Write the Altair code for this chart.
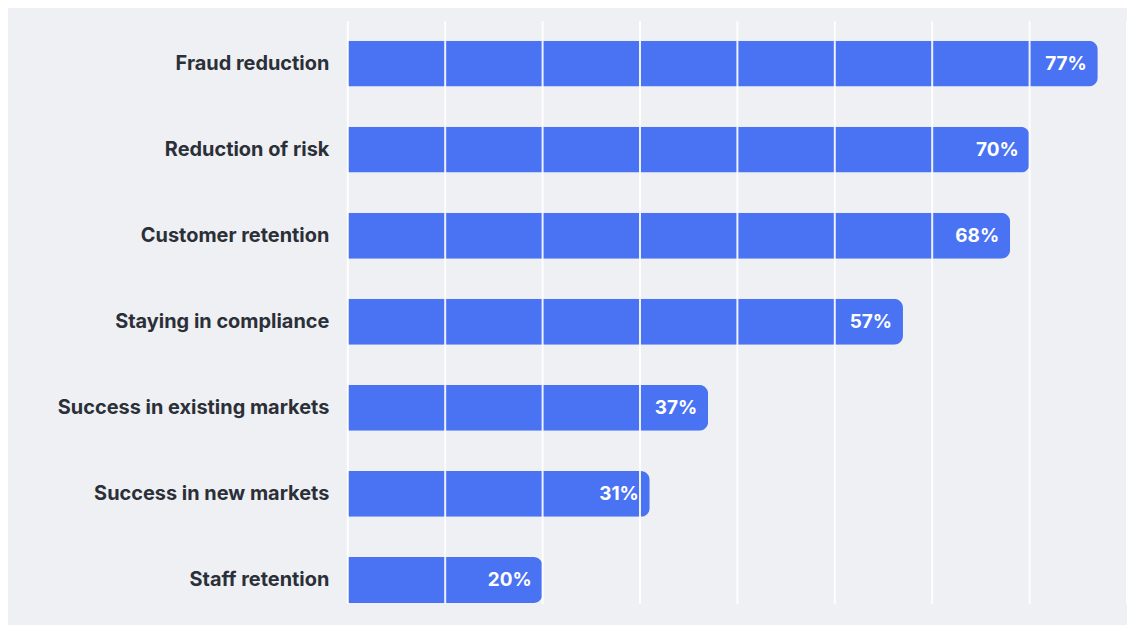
import altair as alt
import pandas as pd

categories = [
    "Fraud reduction",
    "Reduction of risk",
    "Customer retention",
    "Staying in compliance",
    "Success in existing markets",
    "Success in new markets",
    "Staff retention",
]
values = [77, 70, 68, 57, 37, 31, 20]
grid_ticks = [0, 10, 20, 30, 40, 50, 60, 70, 80]

df = pd.DataFrame({"category": categories, "value": values})
grid_df = pd.DataFrame({"tick": grid_ticks})

FONT = "Inter"
BAR = "#4a73f4"

y_enc = alt.Y(
    "category:N",
    sort=categories,
    scale=alt.Scale(paddingInner=0.467, paddingOuter=0.12, align=0.95),
    axis=alt.Axis(
        title=None,
        ticks=False,
        domain=False,
        labelFont=FONT,
        labelFontSize=20,
        labelFontWeight="bold",
        labelColor="#2b2f38",
        labelPadding=19,
        labelLimit=400,
    ),
)
x_scale = alt.Scale(domain=[0, 80], nice=False, zero=True)

bars = alt.Chart(df).mark_bar(color=BAR, cornerRadiusEnd=9).encode(
    x=alt.X("value:Q", scale=x_scale, axis=None),
    y=y_enc,
)

grid = alt.Chart(grid_df).mark_rule(color="#ffffff", strokeWidth=2, opacity=0.9).encode(
    x=alt.X("tick:Q", scale=x_scale, axis=None),
)

labels = alt.Chart(df).transform_calculate(
    label="datum.value + '%'"
).mark_text(
    align="right", baseline="middle", dx=-11, color="#ffffff",
    font=FONT, fontSize=19, fontWeight="bold",
).encode(
    x=alt.X("value:Q", scale=x_scale, axis=None),
    y=alt.Y("category:N", sort=categories),
    text="label:N",
)

chart = alt.layer(bars, grid, labels).properties(
    width=782,
    height=585,
    padding={"left": 341, "top": 12, "right": 0, "bottom": 20},
    autosize="none",
    background="#eef0f3",
).configure_view(stroke=None)

chart.save("out.html", embed_options={"renderer": "svg", "actions": False})
